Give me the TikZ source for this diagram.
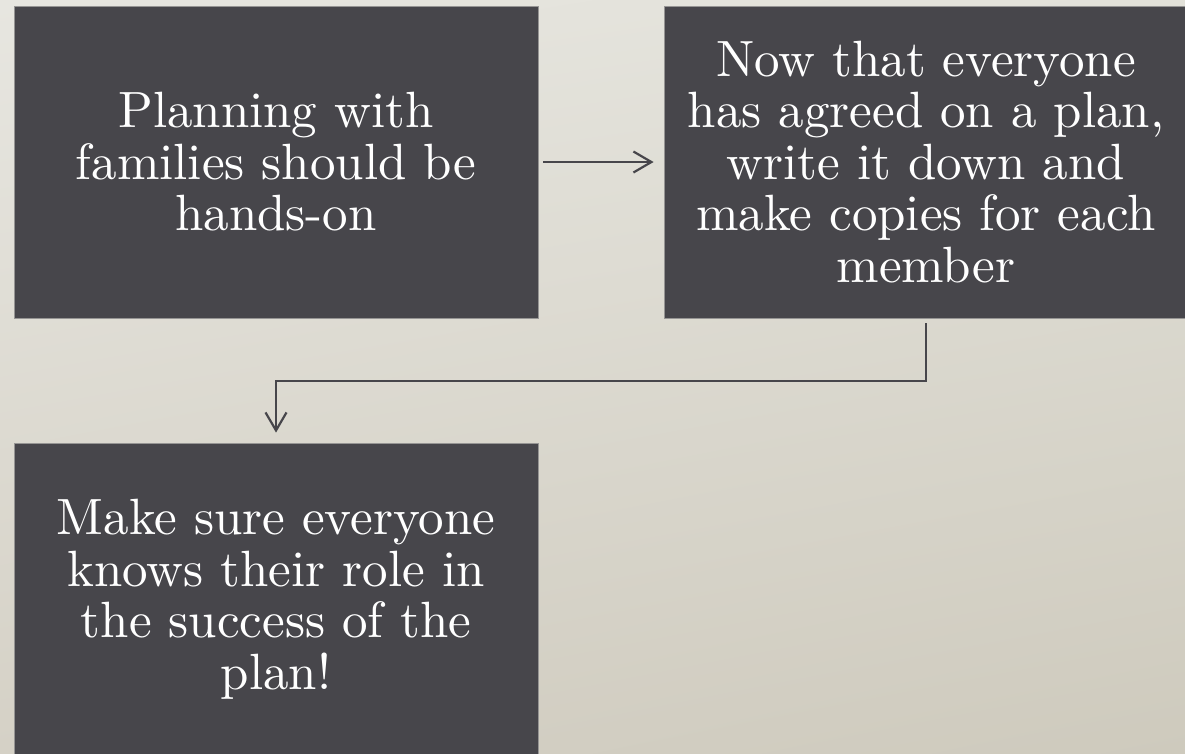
\documentclass[tikz,border=0pt]{standalone}
\usepackage{fontspec}
\setmainfont{lmroman10-regular}[Extension=.otf, BoldFont=lmroman10-bold]
\usetikzlibrary{arrows.meta,shadings}
\definecolor{boxfill}{RGB}{71,70,75}
\definecolor{boxedge}{RGB}{150,149,148}
\definecolor{bgtl}{RGB}{231,230,224}
\definecolor{bgtr}{RGB}{226,225,217}
\definecolor{bgbl}{RGB}{213,209,198}
\definecolor{bgbr}{RGB}{206,202,189}
\tikzset{
  stepbox/.style={rectangle, fill=boxfill, draw=boxedge, line width=0.8pt,
    minimum width=524pt, minimum height=312pt, inner sep=0pt,
    text=white, align=center, font=\fontsize{51}{51.5}\selectfont},
  conn/.style={draw=boxfill, line width=2.2pt,
    -{Straight Barb[length=18pt,width=21pt,line width=2.2pt]}}
}
\begin{document}
\begin{tikzpicture}[x=1pt,y=-1pt]
\useasboundingbox (0,0) rectangle (1185,753);
\shade[upper left=bgtl, upper right=bgtr, lower left=bgbl, lower right=bgbr]
  (0,0) rectangle (1185,753);
\begin{scope}
\clip (0,0) rectangle (1185,753);
\node[stepbox] (b1) at (276,162) {Planning with\\families should be\\hands-on};
\node[stepbox] (b2) at (926,162) {Now that everyone\\has agreed on a plan,\\write it down and\\make copies for each\\member};
\node[stepbox] (b3) at (276,599) {Make sure everyone\\knows their role in\\the success of the\\plan!};
\coordinate (elbow) at (926,381);
\draw[conn, shorten <=5pt, shorten >=10pt] (b1.east) -- (b2.west);
\draw[conn, shorten <=5pt, shorten >=10pt] (b2.south) -- (elbow) -| (b3.north);
\end{scope}
\end{tikzpicture}
\end{document}
